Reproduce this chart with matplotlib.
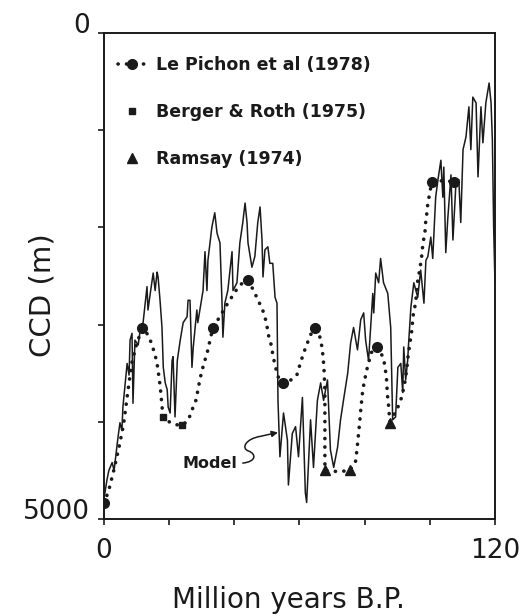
import matplotlib
matplotlib.use("Agg")
import matplotlib.pyplot as plt
from matplotlib.lines import Line2D
from matplotlib.patches import FancyArrowPatch
from matplotlib.path import Path

INK = "#1a1a1a"

# Model curve (age in Myr, CCD depth in m)
model_t = [0.0, 0.9, 1.5, 2.5, 3.1, 4.3, 4.9, 5.5, 5.8, 7.1, 7.7, 8.0, 8.6, 8.9, 9.5,
           10.5, 11.1, 12.0, 13.2, 13.5, 14.2, 15.1, 15.7, 16.3, 16.6, 17.2, 17.8, 18.2,
           18.8, 19.4, 19.7, 20.3, 20.9, 21.2, 21.8, 22.5, 23.4, 24.3, 25.5, 25.8, 26.4,
           27.0, 27.4, 28.5, 28.8, 30.4, 31.0, 31.6, 31.9, 33.1, 34.0, 34.7, 35.6, 36.2,
           36.5, 37.1, 38.0, 39.3, 39.6, 40.8, 41.7, 42.6, 43.3, 43.9, 44.2, 45.4, 46.3,
           47.2, 47.9, 48.5, 48.8, 49.4, 50.3, 50.9, 51.8, 52.5, 53.1, 53.4, 54.0, 55.1,
           56.3, 56.6, 57.8, 58.8, 59.7, 60.9, 61.8, 62.2, 63.4, 64.3, 65.5, 66.5, 67.4,
           68.6, 69.5, 70.5, 71.7, 72.6, 73.5, 74.8, 75.7, 76.6, 77.8, 78.8, 79.7, 80.3,
           81.2, 82.5, 82.8, 83.4, 84.3, 84.9, 85.8, 87.1, 88.0, 88.6, 89.5, 90.2, 91.1,
           91.7, 92.0, 92.6, 93.2, 93.5, 94.2, 95.1, 96.3, 97.2, 98.2, 98.8, 99.4, 100.3,
           100.9, 101.8, 102.5, 103.4, 104.0, 104.3, 104.9, 105.5, 106.5, 107.1, 108.0,
           108.9, 109.5, 110.2, 111.1, 112.0, 112.6, 113.2, 114.2, 114.8, 115.7, 116.3,
           117.2, 118.2, 118.8, 119.2, 119.6, 120.0]
model_d = [4790, 4600, 4500, 4420, 4500, 4160, 4010, 4090, 3850, 3400, 3520, 3160, 3090, 3810, 3160,
           3210, 3060, 2980, 2610, 2850, 2680, 2470, 2650, 2460, 2510, 2750, 3030, 3440,
           3600, 3670, 3850, 3910, 3370, 3330, 3950, 3370, 3160, 2980, 2920, 2750, 2750,
           3440, 3230, 2850, 2980, 2650, 2250, 2650, 2340, 2000, 1850, 2060, 2160, 2750,
           3130, 2780, 2650, 2250, 2650, 2570, 2160, 1950, 1750, 1950, 2160, 2410, 2300,
           1950, 1790, 2130, 2510, 2230, 2200, 2370, 2370, 2720, 2780, 3780, 4360, 3910,
           4190, 4650, 4120, 4050, 4360, 3750, 4730, 4830, 3980, 4470, 3780, 3600, 3780,
           3570, 4290, 4470, 4260, 3980, 3780, 3500, 3190, 3030, 3260, 2950, 2880, 3160,
           3370, 2680, 2880, 2470, 2570, 2320, 2570, 2680, 3030, 3980, 3950, 3440, 3400,
           3700, 3230, 3570, 3370, 3190, 2820, 2570, 2720, 2440, 2780, 2340, 2300, 2100,
           2320, 1690, 1510, 1310, 1690, 1380, 2260, 1920, 1460, 2130, 1560,
           1510, 1950, 1200, 1070, 760, 1200, 660, 720, 1480, 760, 1130,
           720, 515, 720, 1100, 2000, 2570]

# Le Pichon et al (1978) dotted curve
lp_curve_t = [0.0, 1.5, 3.0, 4.5, 6.0, 7.2, 8.5, 10.0, 11.7,
              13.0, 14.2, 15.3, 16.2, 16.8, 17.3, 17.7, 18.1,
              20.0, 22.0, 23.9,
              25.8, 27.0, 28.2, 28.8, 29.4, 30.1, 31.0, 31.9, 32.6, 33.4,
              35.5, 38.0, 40.5, 42.5, 44.2,
              46.3, 47.2, 48.5, 49.4, 50.0, 50.3, 50.9, 51.5, 51.8, 52.5, 53.1, 54.0, 55.0,
              56.4, 57.8, 59.2, 60.1, 61.2, 62.3, 63.5, 64.7,
              66.2, 66.9, 67.3, 67.6, 67.8, 67.8, 67.8, 67.8, 67.8,
              70.0, 73.0, 75.5,
              77.2, 77.6, 77.9, 78.2, 78.5, 78.8, 79.1, 79.4, 80.0, 80.7, 81.4, 82.0, 83.7,
              85.6, 86.2, 86.5, 86.8, 86.9, 87.1, 87.4, 87.7,
              90.2, 91.4, 92.3, 92.9, 93.3, 93.9, 94.5, 94.8, 95.4, 96.0, 96.3, 96.9, 97.5,
              97.9, 98.5, 98.7, 99.1, 99.4, 100.0, 100.6,
              104.0, 107.4]
lp_curve_d = [4840, 4700, 4500, 4280, 4030, 3720, 3400, 3200, 3040,
              3080, 3160, 3270, 3380, 3520, 3650, 3800, 3950,
              4000, 4030, 4035,
              3990, 3880, 3780, 3680, 3570, 3470, 3365, 3260, 3150, 3040,
              2920, 2780, 2650, 2570, 2540,
              2675, 2747, 2830, 2922, 3005, 3087, 3159, 3231, 3313, 3416, 3499, 3591, 3600,
              3591, 3560, 3519, 3416, 3300, 3200, 3100, 3040,
              3120, 3230, 3350, 3500, 3700, 3900, 4100, 4300, 4500,
              4510, 4510, 4500,
              4410, 4300, 4200, 4100, 4000, 3880, 3780, 3680, 3570, 3460, 3370, 3290, 3230,
              3330, 3420, 3500, 3590, 3680, 3760, 3850, 4000,
              3850, 3745, 3600, 3470, 3334, 3190, 3056, 2922, 2820, 2675, 2542, 2440, 2300,
              2160, 2058, 1955, 1852, 1750, 1646, 1530,
              1520, 1530]

lp_t = [0.0, 11.7, 33.4, 44.2, 55.0, 64.7, 83.7, 100.6, 107.4]
lp_d = [4840, 3040, 3040, 2540, 3600, 3040, 3230, 1530, 1530]

# Berger & Roth (1975)
br_t = [18.1, 23.9]
br_d = [3950, 4035]

# Ramsay (1974)
ram_t = [67.8, 75.5, 87.7]
ram_d = [4500, 4500, 4010]

xticks = [0, 20, 40, 60, 80, 100, 120]
xticklabels = ["0", "", "", "", "", "", "120"]
yticks = [0, 1000, 2000, 3000, 4000, 5000]
yticklabels = ["0", "", "", "", "", "5000"]

fig = plt.figure(figsize=(5.26, 6.16), dpi=100)
ax = fig.add_axes([0.1977, 0.1575, 0.7433, 0.789])

dots = (0, (0.05, 2.3))
ax.plot(model_t, model_d, color=INK, lw=1.1)
ax.plot(lp_curve_t, lp_curve_d, color=INK, lw=2.6, linestyle=dots, dash_capstyle="round")
ax.plot(lp_t, lp_d, "o", color=INK, ms=7)
ax.plot(br_t, br_d, "s", color=INK, ms=5)
ax.plot(ram_t, ram_d, "^", color=INK, ms=7)

ax.set_xlim(0, 120)
ax.set_ylim(5000, 0)
ax.set_xticks(xticks)
ax.set_xticklabels(xticklabels)
ax.set_yticks(yticks)
ax.set_yticklabels(yticklabels)
for lbl in ax.get_yticklabels():
    lbl.set_verticalalignment("baseline")
ax.tick_params(axis="both", direction="out", length=4, width=1.2, labelsize=19, colors=INK)
ax.tick_params(axis="x", pad=10)
ax.tick_params(axis="y", pad=6)
for s in ax.spines.values():
    s.set_linewidth(1.4)
    s.set_color(INK)

ax.set_xlabel("Million years B.P.", fontsize=20, color=INK, va="center")
ax.xaxis.set_label_coords(0.471, -0.167)
ax.set_ylabel("CCD (m)", fontsize=21, color=INK, va="center")
ax.yaxis.set_label_coords(-0.156, 0.461)

handles = [
    Line2D([], [], color=INK, lw=2.6, linestyle=dots, dash_capstyle="round", marker="o", ms=7),
    Line2D([], [], color=INK, ls="none", marker="s", ms=5),
    Line2D([], [], color=INK, ls="none", marker="^", ms=7),
]
labels = ["Le Pichon et al (1978)", "Berger & Roth (1975)", "Ramsay (1974)"]
ax.legend(handles, labels, loc="upper left", bbox_to_anchor=(0.018, 0.967), frameon=False,
          prop={"size": 12.5, "weight": "bold"}, labelspacing=1.67, handlelength=1.6,
          handletextpad=0.6, numpoints=1, borderaxespad=0, labelcolor=INK)

# "Model" label with S-shaped pointer to the curve
ax.text(32.5, 4425, "Model", fontsize=11.5, fontweight="bold", color=INK, ha="center", va="center")
s_path = Path([(42.6, 4425), (46.8, 4410), (46.8, 4330), (44.3, 4300),
               (42.0, 4270), (43.5, 4175), (48.0, 4150), (53.4, 4110)],
              [Path.MOVETO, Path.CURVE4, Path.CURVE4, Path.CURVE4,
               Path.CURVE4, Path.CURVE4, Path.CURVE4, Path.LINETO])
ax.add_patch(FancyArrowPatch(path=s_path, arrowstyle="-|>", mutation_scale=9,
                             color=INK, lw=1.1))

fig.savefig("out.png", dpi=100)
